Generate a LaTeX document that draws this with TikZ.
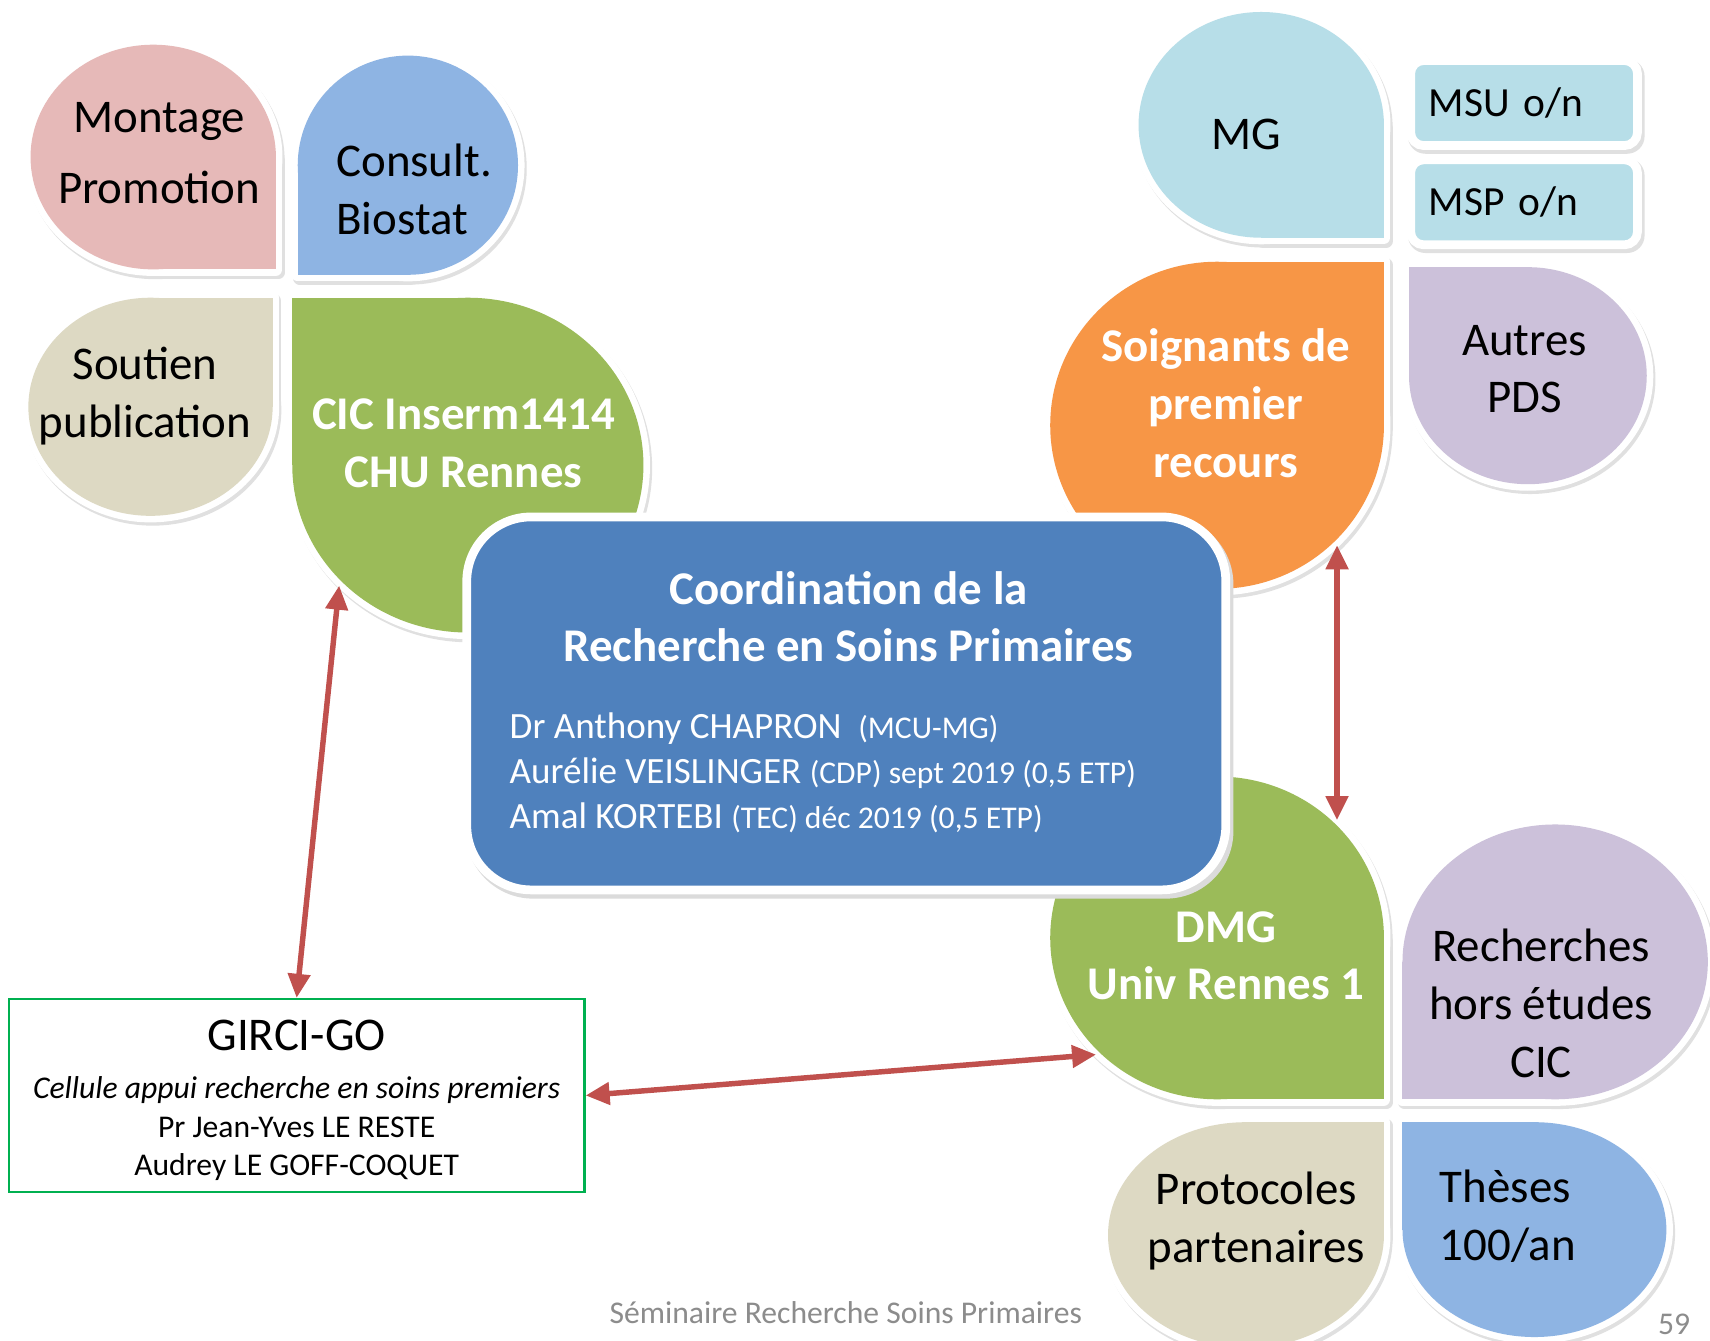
\documentclass[tikz,border=0pt]{standalone}
\usepackage{fontspec}
\setmainfont{Carlito}
\usetikzlibrary{arrows.meta}
\definecolor{cpink}{HTML}{E6B9B8}
\definecolor{cblue}{HTML}{8EB4E3}
\definecolor{cbeige}{HTML}{DDD9C3}
\definecolor{cgreen}{HTML}{9BBB59}
\definecolor{clight}{HTML}{B7DEE8}
\definecolor{corange}{HTML}{F79646}
\definecolor{cpurple}{HTML}{CCC1DA}
\definecolor{cbox}{HTML}{4F81BD}
\definecolor{cred}{HTML}{C0504D}
\definecolor{cgirci}{HTML}{00B050}
\definecolor{cfoot}{HTML}{8C8C8C}
% petal: cx, cy, x radius, y radius, square corner point, colour
\newcommand\mypetal[6]{%
  \begin{scope}[shift={(2,3)}]
    \filldraw[black!12, line width=6pt, line join=round] (#1,#2) ellipse [x radius=#3, y radius=#4];
    \filldraw[black!12, line width=6pt, line join=round] (#1,#2) rectangle #5;
  \end{scope}
  \filldraw[white, line width=6pt, line join=round] (#1,#2) ellipse [x radius=#3, y radius=#4];
  \filldraw[white, line width=6pt, line join=round] (#1,#2) rectangle #5;
  \fill[#6] (#1,#2) ellipse [x radius=#3, y radius=#4];
  \fill[#6] (#1,#2) rectangle #5;
}
\newcommand\petit[1]{{\fontsize{14.5}{20.75}\selectfont #1}}
\tikzset{
  big/.style={font=\fontsize{21.5}{26.5}\selectfont, align=center, inner sep=0pt},
  bigw/.style={big, font=\fontsize{21.5}{26.5}\selectfont\bfseries, text=white},
  smallbox/.style={rectangle, rounded corners=6pt, fill=clight, draw=white, line width=4pt,
    minimum width=104pt, minimum height=39pt, font=\fontsize{19}{23}\selectfont,
    text width=87.5pt, align=left, inner xsep=8.25pt},
  coordbox/.style={rectangle, rounded corners=29.5pt, fill=cbox, draw=white, line width=4pt,
    minimum width=348pt, minimum height=171pt, inner sep=0pt},
  names/.style={font=\fontsize{17}{20.75}\selectfont, text=white, align=left, anchor=west, inner sep=0pt},
  gircibox/.style={rectangle, draw=cgirci, line width=1pt, fill=white, minimum width=264pt, minimum height=88.5pt, inner sep=0pt},
  arr/.style={cred, line width=2.5pt, {Triangle[length=11pt,width=10pt]}-{Triangle[length=11pt,width=10pt]}},
  foot/.style={font=\fontsize{14.5}{17}\selectfont, text=cfoot, inner sep=0pt}
}
\begin{document}
\begin{tikzpicture}[x=0.5pt, y=-0.5pt]
\useasboundingbox (0,0) rectangle (1568,1229);
\fill[white] (0,0) rectangle (1568,1229);
% top-left cluster
\mypetal{140.5}{144}{112.5}{103}{(253,247)}{cpink}
\mypetal{374}{151.5}{101}{100.5}{(273,252)}{cblue}
\mypetal{138}{373}{112}{100}{(250,273)}{cbeige}
\mypetal{429}{426.5}{161}{153.5}{(268,273)}{cgreen}
% top-right cluster
\mypetal{1156.5}{114.5}{112.5}{103.5}{(1269,218)}{clight}
\mypetal{1116}{390}{153}{150}{(1269,240)}{corange}
\mypetal{1401}{344.5}{109}{99.5}{(1292,245)}{cpurple}
% bottom-right cluster
\mypetal{1116}{860}{153}{148}{(1269,1008)}{cgreen}
\mypetal{1426}{882}{140}{126}{(1286,1008)}{cpurple}
\mypetal{1142.5}{1132.5}{126.5}{103.5}{(1269,1029)}{cbeige}
\mypetal{1407}{1127.5}{121}{98.5}{(1286,1029)}{cblue}
% central box shadow
\begin{scope}[shift={(3,4)}]
  \fill[black!14, rounded corners=31pt] (424,470) rectangle (1128,820);
\end{scope}
\node[coordbox] (coord) at (776,645) {};
% small boxes shadows
\begin{scope}[shift={(2,3)}]
  \fill[black!12, rounded corners=8pt] (1289,51) rectangle (1506,138);
  \fill[black!12, rounded corners=8pt] (1289,142) rectangle (1506,229);
\end{scope}
\node[smallbox] (msu) at (1397.5,94.5) {MSU o/n};
\node[smallbox] (msp) at (1397.5,185.5) {MSP o/n};
% texts
\node[big, font=\fontsize{21.5}{32.5}\selectfont] (montage) at (146,140.5) {Montage\\Promotion};
\node[big, align=left, anchor=west] (consult) at (308,173.5) {Consult.\\Biostat};
\node[big] (soutien) at (133,363.5) {Soutien\\publication};
\node[bigw] (cic) at (425,406.5) {CIC Inserm1414\\CHU Rennes};
\node[big] (mg) at (1143,123) {MG};
\node[bigw] (soig) at (1124,370) {Soignants de\\premier\\recours};
\node[big] (autres) at (1398,338.5) {Autres\\PDS};
\node[bigw] (dmg) at (1124,876.5) {DMG\\Univ Rennes 1};
\node[big] (rech) at (1413,920) {Recherches\\hors études\\CIC};
\node[big] (proto) at (1152,1119.5) {Protocoles\\partenaires};
\node[big, align=left, anchor=west] (theses) at (1320,1115.5) {Thèses\\100/an};
\node[bigw] (coordT) at (778,565.5) {Coordination de la\\Recherche en Soins Primaires};
\node[names] (noms) at (467,708.5) {Dr Anthony CHAPRON\ \ \petit{(MCU-MG)}\\
  Aurélie VEISLINGER \petit{(CDP) sept 2019 (0,5 ETP)}\\
  Amal KORTEBI \petit{(TEC) déc 2019 (0,5 ETP)}};
% GIRCI
\node[gircibox] (girci) at (272,1004.5) {};
\node[font=\fontsize{14.5}{17.75}\selectfont, align=center, inner sep=0pt] (girciT) at (272,1009)
  {{\fontsize{21.5}{26}\selectfont GIRCI-GO}\\[4.25pt]
   \textit{Cellule appui recherche en soins premiers}\\
   Pr Jean-Yves LE RESTE\\
   Audrey LE GOFF-COQUET};
% arrow anchors
\coordinate (cicA) at (311,537);
\coordinate (dmgA) at (1005,967);
\coordinate (soigA) at (1226,500);
\coordinate (dmgB) at (1226,752);
\draw[arr] (girci.north) -- (cicA);
\draw[arr] (girci.east) -- (dmgA);
\draw[arr] (soigA) -- (dmgB);
% footer
\node[foot] (footer) at (775.5,1204) {Séminaire Recherche Soins Primaires};
\node[foot] (page) at (1535,1214) {59};
\end{tikzpicture}
\end{document}
